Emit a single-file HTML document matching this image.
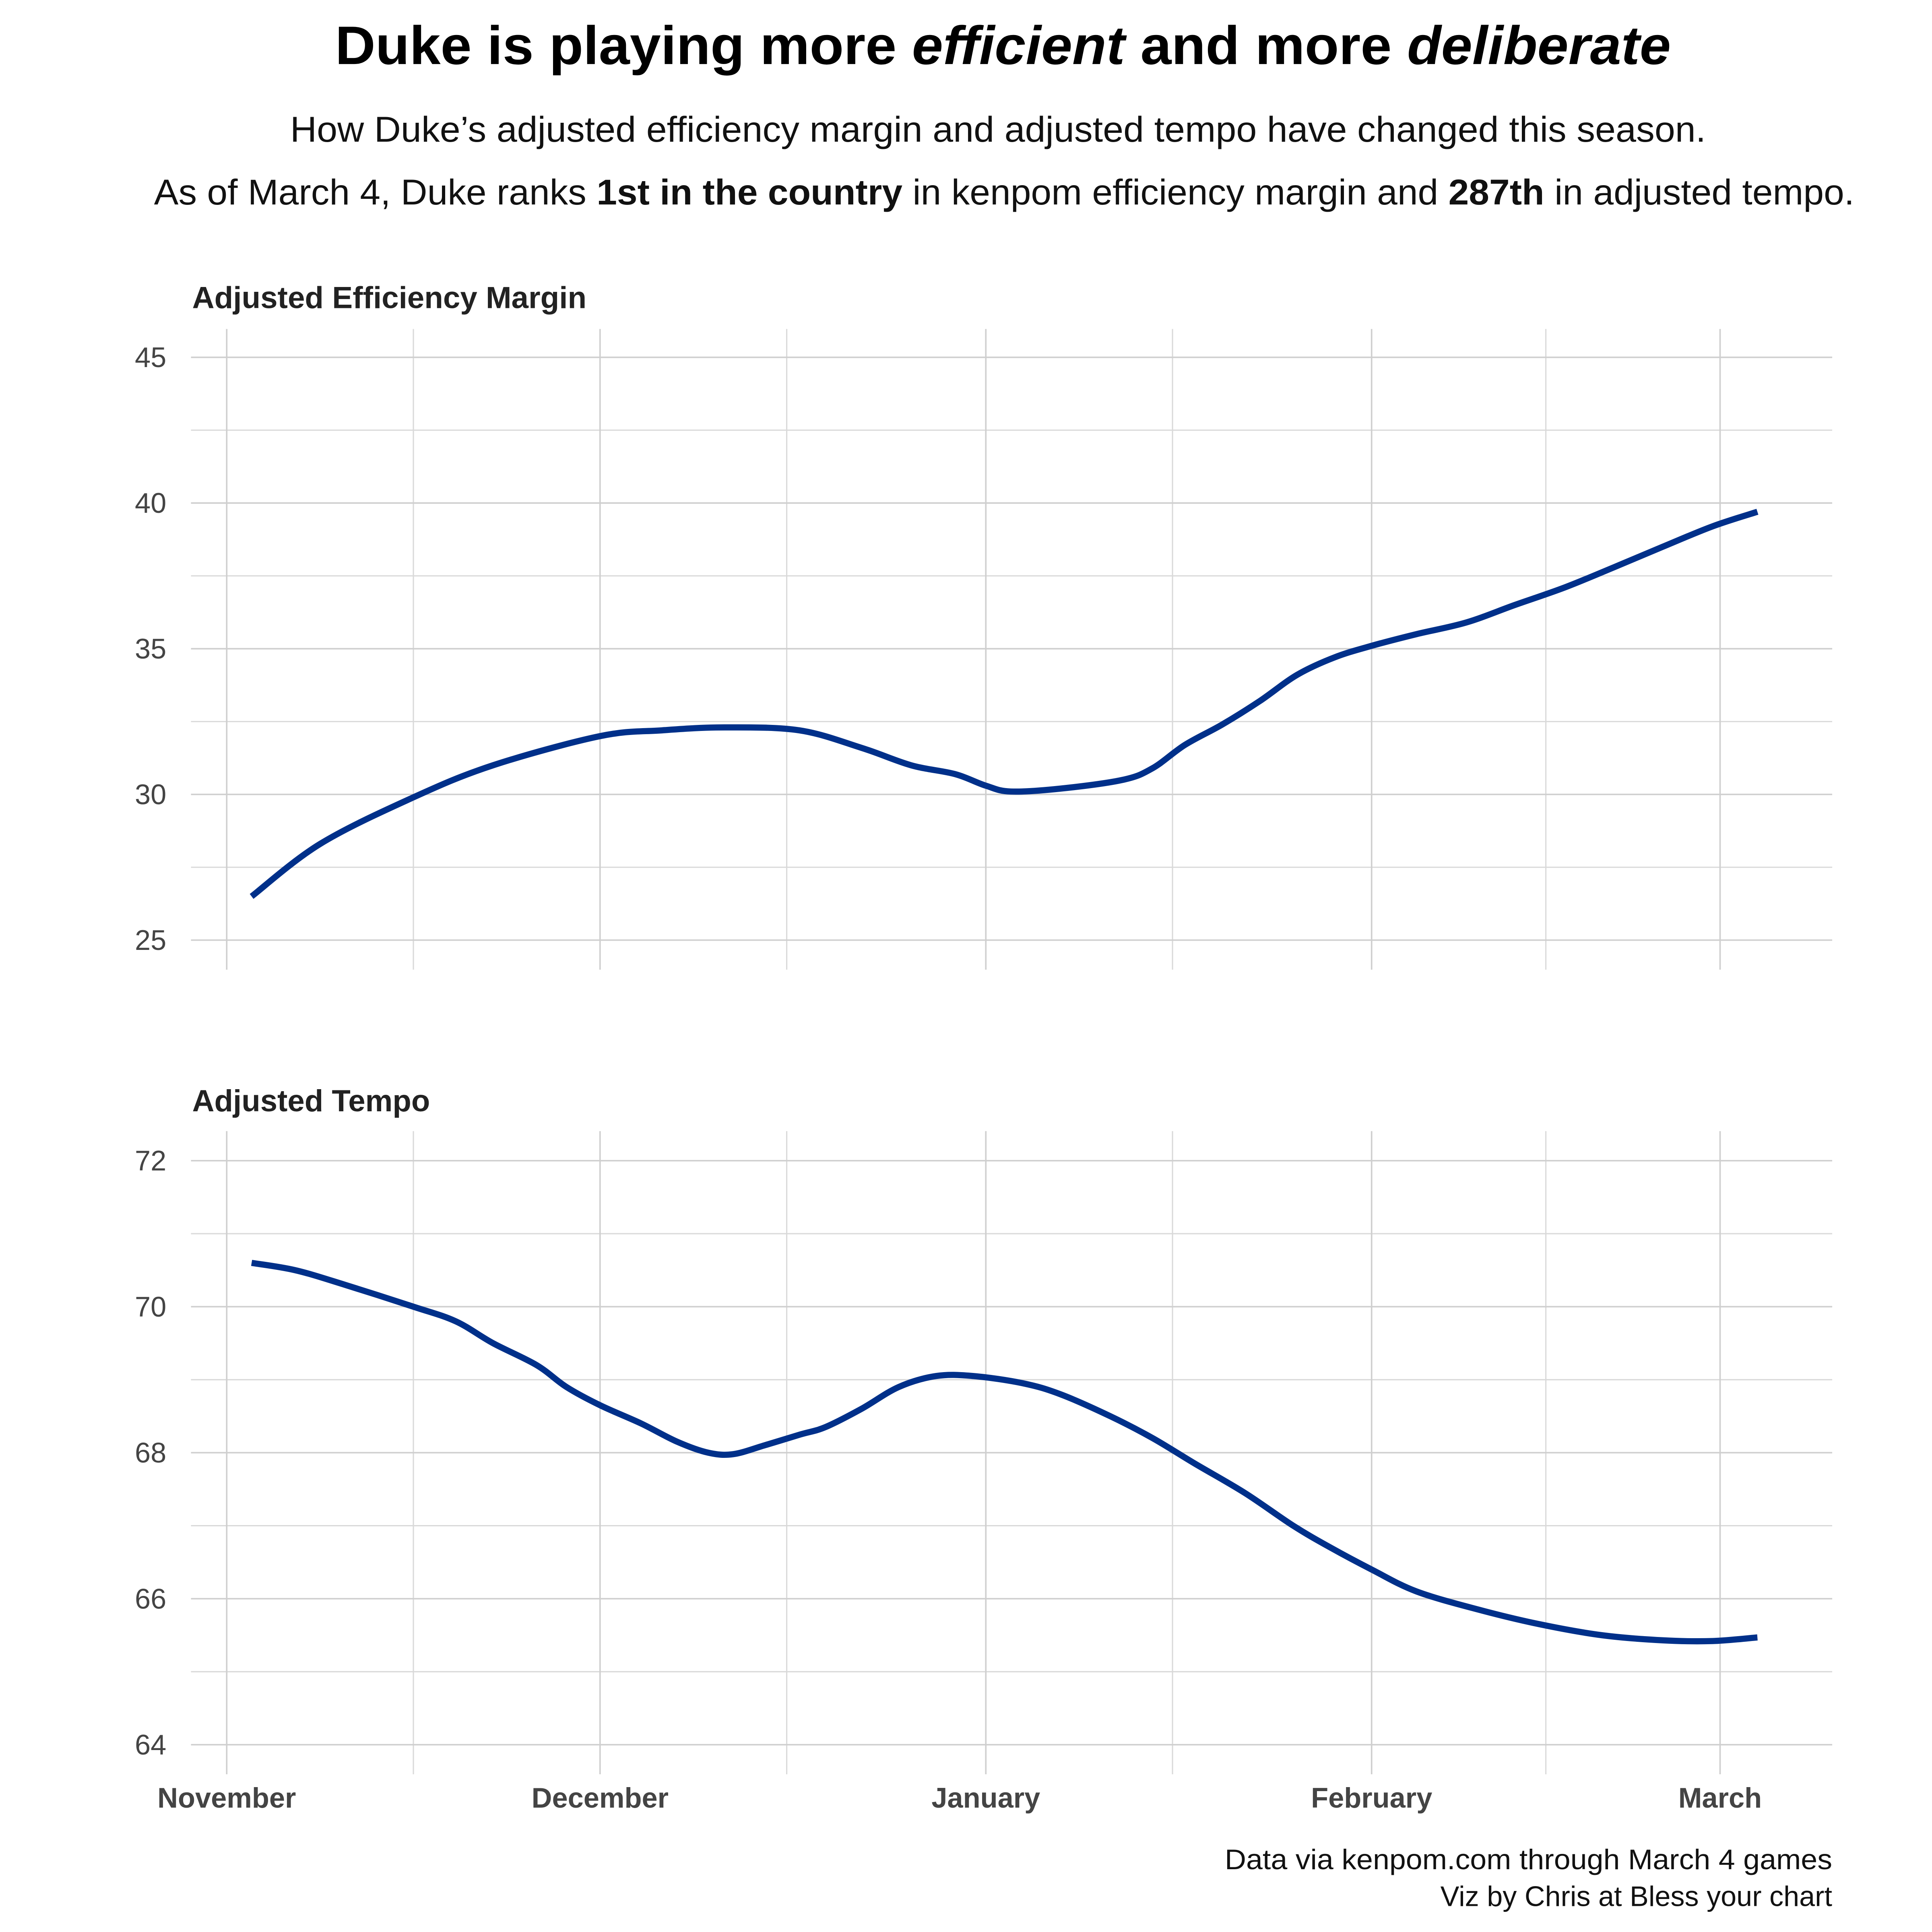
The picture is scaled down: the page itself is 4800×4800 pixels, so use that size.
<!DOCTYPE html>
<html><head><meta charset="utf-8"><style>
html,body{margin:0;padding:0;background:#fff;}
svg{display:block;font-family:"Liberation Sans Narrow","Liberation Sans",sans-serif;}
</style></head><body>
<svg id="chart" width="4800" height="4800" viewBox="0 0 1568 1568" xmlns="http://www.w3.org/2000/svg">
<rect x="0" y="0" width="1568" height="1568" fill="#fff"/>
<text x="814" y="52" text-anchor="middle" font-size="44" font-weight="bold" fill="#000" textLength="1084" lengthAdjust="spacingAndGlyphs">Duke is playing more <tspan font-style="italic">efficient</tspan> and more <tspan font-style="italic">deliberate</tspan></text>
<text x="810" y="115" text-anchor="middle" font-size="29" fill="#111" textLength="1149" lengthAdjust="spacingAndGlyphs">How Duke’s adjusted efficiency margin and adjusted tempo have changed this season.</text>
<text x="815" y="166" text-anchor="middle" font-size="29" fill="#111" textLength="1380" lengthAdjust="spacingAndGlyphs">As of March 4, Duke ranks <tspan font-weight="bold">1st in the country</tspan> in kenpom efficiency margin and <tspan font-weight="bold">287th</tspan> in adjusted tempo.</text>
<text x="156" y="250" font-size="25" font-weight="bold" fill="#222" textLength="320" lengthAdjust="spacingAndGlyphs">Adjusted Efficiency Margin</text>
<text x="156" y="902" font-size="25" font-weight="bold" fill="#222" textLength="193" lengthAdjust="spacingAndGlyphs">Adjusted Tempo</text>
<g id="p1"></g><g id="p2"></g><g id="xl"></g>
<text x="1487" y="1517" text-anchor="end" font-size="23" fill="#111" textLength="493" lengthAdjust="spacingAndGlyphs">Data via kenpom.com through March 4 games</text>
<text x="1487" y="1547" text-anchor="end" font-size="23" fill="#111" textLength="318" lengthAdjust="spacingAndGlyphs">Viz by Chris at Bless your chart</text>
</svg>
<script>
const monthLabels = ["November","December","January","February","March"];
const monthDays = [0,30,61,92,120];
const minorDays = [15,45,76,106];
const emTicks = [25,30,35,40,45];
const tempoTicks = [64,66,68,70,72];
const emDays = [2,7.5,15,21.4,30,35,40,46,51,55,58.5,61,63,67,72,74.4,77,80,83,86,89,92,95.6,99.6,103.5,107.5,111.5,115.4,119.4,123];
const emValues = [26.5,28.3,29.9,31.0,32.0,32.2,32.3,32.2,31.6,31.0,30.7,30.3,30.1,30.2,30.5,30.9,31.7,32.4,33.2,34.1,34.7,35.1,35.5,35.9,36.5,37.1,37.8,38.5,39.2,39.7];
const tempoDays = [2,5.5,9.5,15,18.4,21.4,24.9,27.3,30,33.3,36.2,38.7,40.7,43.2,46.1,48.1,51,54,57,60,64,67,71,74.4,77.8,81.8,85.7,88.7,92,95.6,100.6,105.5,110.5,115.4,119.4,123];
const tempoValues = [70.6,70.5,70.3,70.0,69.8,69.5,69.2,68.9,68.65,68.4,68.15,68.0,67.98,68.1,68.25,68.35,68.6,68.9,69.05,69.05,68.95,68.8,68.5,68.2,67.85,67.45,67.0,66.7,66.4,66.1,65.85,65.65,65.5,65.43,65.42,65.47];

const NS="http://www.w3.org/2000/svg";
const X0=155,X1=1487;
function x(d){return 184+d*(1396-184)/120;}
function mk(tag,attrs,parent){const e=document.createElementNS(NS,tag);for(const k in attrs)e.setAttribute(k,attrs[k]);parent.appendChild(e);return e;}
function smooth(pts){let d="M"+pts[0][0]+","+pts[0][1];for(let i=0;i<pts.length-1;i++){const p0=pts[Math.max(0,i-1)],p1=pts[i],p2=pts[i+1],p3=pts[Math.min(pts.length-1,i+2)];const c1=[p1[0]+(p2[0]-p0[0])/6,p1[1]+(p2[1]-p0[1])/6],c2=[p2[0]-(p3[0]-p1[0])/6,p2[1]-(p3[1]-p1[1])/6];d+=" C"+c1[0]+","+c1[1]+" "+c2[0]+","+c2[1]+" "+p2[0]+","+p2[1];}return d;}
function panel(g,ticks,yMinPix,yMaxPix,tMin,tMax,ptop,pbot,days,vals,nm){
  const y=v=>yMinPix-(v-tMin)*(yMinPix-yMaxPix)/(tMax-tMin);
  const step=ticks[1]-ticks[0];
  for(let i=0;i<ticks.length-1;i++){const l=mk("line",{x1:X0,x2:X1,y1:y(ticks[i]+step/2),y2:y(ticks[i]+step/2),stroke:"#d9d9d9","stroke-width":1},g);
    
    }
  minorDays.forEach(d=>{const l=mk("line",{x1:x(d),x2:x(d),y1:ptop,y2:pbot,stroke:"#d9d9d9","stroke-width":1},g);
    
    });
  monthDays.forEach(d=>{const l=mk("line",{x1:x(d),x2:x(d),y1:ptop,y2:pbot,stroke:"#cfcfcf","stroke-width":1.2},g);
    
    });
  ticks.forEach(t=>{const l=mk("line",{x1:X0,x2:X1,y1:y(t),y2:y(t),stroke:"#cfcfcf","stroke-width":1.2},g);
    
    
    const tx=mk("text",{x:135,y:y(t)+8,"text-anchor":"end","font-size":23,fill:"#444"},g);tx.textContent=t;
    
    });
  const pts=days.map((d,i)=>[x(d),y(vals[i])]);
  const p=mk("path",{d:smooth(pts),fill:"none",stroke:"#00308a","stroke-width":5,"stroke-linecap":"butt","stroke-linejoin":"round"},g);
  
  
}
panel(document.getElementById('p1'),emTicks,763,290,25,45,267,787,emDays,emValues,'efficiency-margin-line');
panel(document.getElementById('p2'),tempoTicks,1416,942,64,72,918,1440,tempoDays,tempoValues,'tempo-line');
const xl=document.getElementById('xl');
monthLabels.forEach((m,i)=>{const t=mk("text",{x:x(monthDays[i]),y:1467,"text-anchor":"middle","font-size":23,"font-weight":"bold",fill:"#444"},xl);t.textContent=m;
  
  });
</script>
</body></html>
